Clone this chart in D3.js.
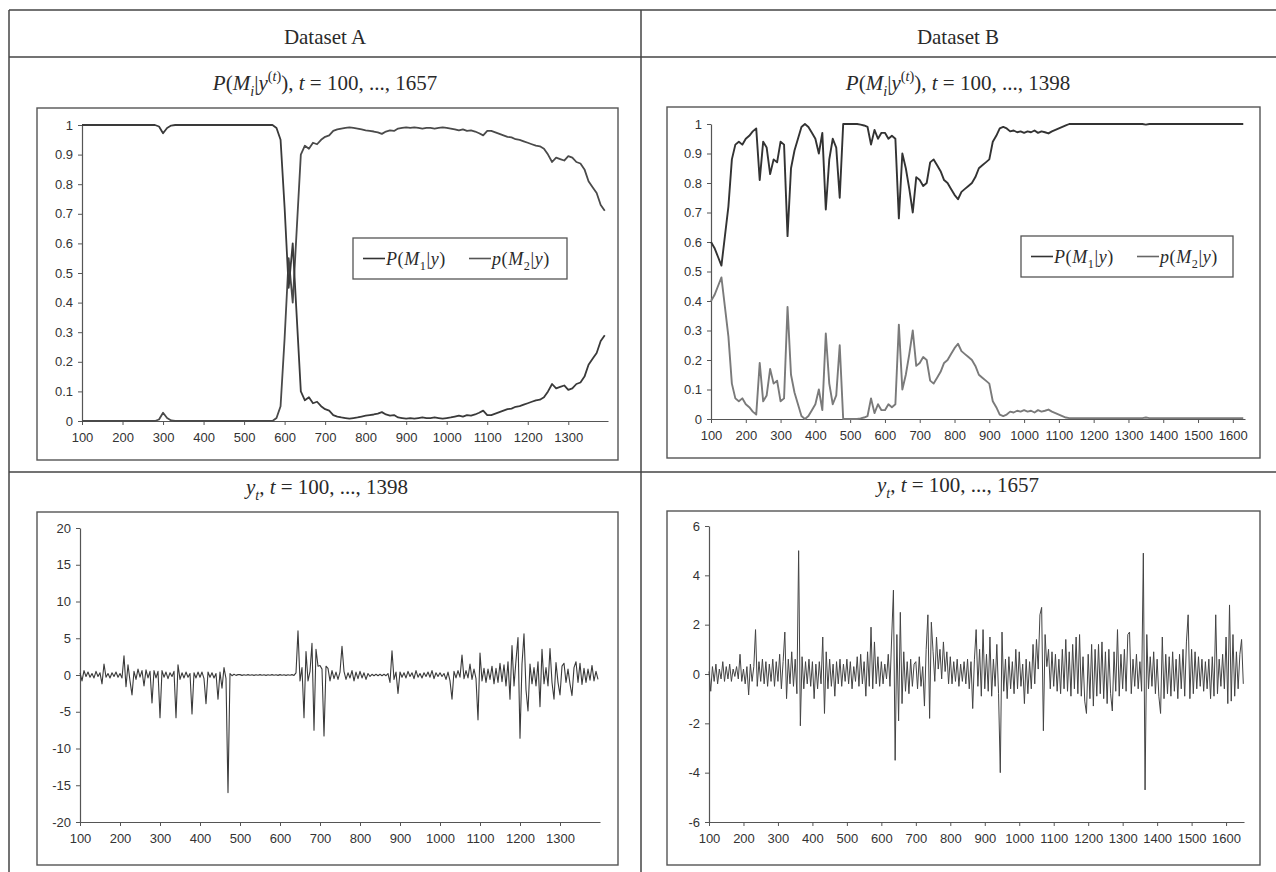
<!DOCTYPE html>
<html>
<head>
<meta charset="utf-8">
<script src="https://cdn.jsdelivr.net/npm/d3@7"></script>
<style>
  body { margin: 0; background: #fff; }
  svg { display: block; }
</style>
</head>
<body>
<script>
// posterior model probabilities, sampled every 10 steps from t = 100
const probA_M1 = [
  1,1,1,1,1,1,1,1,1,1,
  1,1,1,1,1,1,1,1,1,0.995,
  0.972,0.99,0.998,1,1,1,1,1,1,1,
  1,1,1,1,1,1,1,1,1,1,
  1,1,1,1,1,1,1,1,0.99,0.95,
  0.72,0.45,0.6,0.35,0.1,0.07,0.08,0.06,0.065,0.05,
  0.04,0.035,0.02,0.015,0.012,0.01,0.008,0.01,0.012,0.015,
  0.018,0.02,0.022,0.025,0.03,0.022,0.018,0.02,0.012,0.01,
  0.008,0.01,0.008,0.01,0.012,0.01,0.01,0.012,0.01,0.008,
  0.01,0.012,0.015,0.018,0.015,0.02,0.018,0.022,0.028,0.035,
  0.02,0.02,0.025,0.03,0.035,0.04,0.042,0.048,0.05,0.055,
  0.06,0.065,0.07,0.072,0.08,0.1,0.125,0.11,0.115,0.12,
  0.105,0.11,0.125,0.13,0.15,0.19,0.21,0.23,0.27,0.29
];
const probA_M2 = [
  0,0,0,0,0,0,0,0,0,0,
  0,0,0,0,0,0,0,0,0,0.005,
  0.028,0.01,0.002,0,0,0,0,0,0,0,
  0,0,0,0,0,0,0,0,0,0,
  0,0,0,0,0,0,0,0,0.01,0.05,
  0.28,0.55,0.4,0.65,0.9,0.93,0.92,0.94,0.935,0.95,
  0.96,0.965,0.98,0.985,0.988,0.99,0.992,0.99,0.988,0.985,
  0.982,0.98,0.978,0.975,0.97,0.978,0.982,0.98,0.988,0.99,
  0.992,0.99,0.992,0.99,0.988,0.99,0.99,0.988,0.99,0.992,
  0.99,0.988,0.985,0.982,0.985,0.98,0.982,0.978,0.972,0.965,
  0.98,0.98,0.975,0.97,0.965,0.96,0.958,0.952,0.95,0.945,
  0.94,0.935,0.93,0.928,0.92,0.9,0.875,0.89,0.885,0.88,
  0.895,0.89,0.875,0.87,0.85,0.81,0.79,0.77,0.73,0.71
];
const probB_M1 = [
  0.6,0.58,0.55,0.52,0.62,0.72,0.88,0.93,0.94,0.93,
  0.95,0.96,0.975,0.985,0.81,0.94,0.92,0.83,0.88,0.87,
  0.94,0.93,0.62,0.85,0.91,0.95,0.99,1,0.99,0.97,
  0.95,0.9,0.97,0.71,0.88,0.95,0.92,0.75,1,1,
  1,1,1,0.998,0.995,0.99,0.93,0.98,0.95,0.97,
  0.97,0.95,0.96,0.95,0.68,0.9,0.85,0.78,0.7,0.82,
  0.81,0.79,0.8,0.87,0.88,0.86,0.84,0.81,0.8,0.78,
  0.76,0.745,0.77,0.78,0.79,0.8,0.82,0.85,0.86,0.87,
  0.88,0.94,0.96,0.985,0.99,0.985,0.975,0.978,0.972,0.975,
  0.97,0.975,0.972,0.978,0.97,0.975,0.972,0.968,0.975,0.98,
  0.985,0.99,0.995,1,1,1,1,1,1,1,
  1,1,1,1,1,1,1,1,1,1,
  1,1,1,1,1,0.998,1,1,1,1,
  1,1,1,1,1,1,1,1,1,1,
  1,1,1,1,1,1,1,1,1,1,
  1,1,1,1
];
const probB_M2 = [
  0.4,0.42,0.45,0.48,0.38,0.28,0.12,0.07,0.06,0.07,
  0.05,0.04,0.025,0.015,0.19,0.06,0.08,0.17,0.12,0.13,
  0.06,0.07,0.38,0.15,0.09,0.05,0.01,0,0.01,0.03,
  0.05,0.1,0.03,0.29,0.12,0.05,0.08,0.25,0,0,
  0,0,0,0.002,0.005,0.01,0.07,0.02,0.05,0.03,
  0.03,0.05,0.04,0.05,0.32,0.1,0.15,0.22,0.3,0.18,
  0.19,0.21,0.2,0.13,0.12,0.14,0.16,0.19,0.2,0.22,
  0.24,0.255,0.23,0.22,0.21,0.2,0.18,0.15,0.14,0.13,
  0.12,0.06,0.04,0.015,0.01,0.015,0.025,0.022,0.028,0.025,
  0.03,0.025,0.028,0.022,0.03,0.025,0.028,0.032,0.025,0.02,
  0.015,0.01,0.005,0.003,0.003,0.003,0.003,0.003,0.003,0.003,
  0.003,0.003,0.003,0.003,0.003,0.003,0.003,0.003,0.003,0.003,
  0.003,0.003,0.003,0.003,0.003,0.005,0.003,0.003,0.003,0.003,
  0.003,0.003,0.003,0.003,0.003,0.003,0.003,0.003,0.003,0.003,
  0.003,0.003,0.003,0.003,0.003,0.003,0.003,0.003,0.003,0.003,
  0.003,0.003,0.003,0.003
];

// observed series, sampled every 5 steps from t = 100
const seriesA = [
  0.3,-0.8,0.6,-0.2,0.4,-0.3,0.2,-0.4,0.5,-0.2,0.3,-1.2,1.5,-0.3,0.2,-0.4,0.3,-0.2,0.4,-0.3,
  0.2,-0.4,2.6,-1.6,1.4,-0.8,-2.7,0.5,-0.6,0.8,-0.3,0.6,-1.5,0.7,-0.4,0.5,-3.8,0.6,-0.4,0.5,
  -5.8,0.6,-0.3,0.4,-0.5,0.3,-0.2,0.5,-5.8,1.4,-0.6,0.3,-0.4,0.4,-0.3,0.2,-5.3,0.3,-0.4,0.4,
  -0.3,0.4,-0.5,-3.9,0.4,-0.3,0.3,-0.4,0.2,-3.3,0.4,-1.8,1.0,-0.5,-16,0.2,-0.1,0.1,-0.05,0.05,
  0.05,-0.05,0.04,-0.03,0.05,-0.04,0.03,-0.05,0.04,-0.03,0.05,-0.04,0.03,-0.05,0.04,-0.03,0.05,-0.04,0.03,-0.05,
  0.05,-0.04,0.03,-0.05,0.04,-0.03,0.05,-0.06,0.3,6.0,-0.8,1.0,-5.8,3.2,-0.8,0.5,4.3,-7.5,3.5,1.2,
  1.3,0.8,-8.3,1.2,0.9,-0.8,0.6,-0.5,0.4,-0.6,0.4,3.9,0.5,-0.6,0.3,-0.4,0.6,-0.8,0.4,-0.5,
  0.5,-0.4,0.3,-0.6,0.2,-0.2,0.1,-0.1,0.1,-0.1,0.1,-0.1,0.1,-0.1,0.2,-1.0,3.3,-0.6,0.4,-2.5,
  0.4,-0.3,0.3,-0.4,0.5,-0.2,0.3,-0.5,0.6,-0.3,0.2,-0.4,0.3,-0.2,0.4,-0.3,0.6,-0.5,0.3,-0.2,
  0.3,-0.2,0.2,-0.6,0.4,-0.8,-3.3,0.5,-0.4,0.6,-0.3,2.7,-0.5,0.6,-0.4,1.5,-0.6,0.8,-0.5,-6.1,
  3.0,-0.8,0.9,-1.0,0.8,-0.6,1.2,-1.2,0.9,-1.0,1.6,-0.9,1.4,-1.5,1.8,-3.3,4.0,-1.5,2.0,5.1,
  -8.6,1.5,5.6,-2.0,-4.9,1.5,-1.2,1.0,-1.5,1.8,-4.3,3.5,-1.2,1.0,-1.5,3.6,-1.0,-3.3,1.7,-1.0,
  -2.7,1.2,1.6,-1.0,0.8,-1.2,-2.8,1.0,1.8,-1.0,1.6,-1.3,0.9,-1.0,0.8,-0.7,1.3,-0.8,0.5,-0.6
];
const seriesB = [
  0.1,-0.7,0.3,-0.3,0.4,-0.4,0.2,-0.2,0.5,-0.3,0.3,-0.2,0.4,-0.3,0.2,-0.1,0.3,-0.2,0.8,-0.3,
  0.2,-0.4,0.3,-0.85,0.4,-0.3,0.3,1.8,-0.5,0.5,-0.3,0.6,-0.4,0.5,-0.5,0.4,-0.3,0.6,-0.5,0.5,
  -0.3,0.8,-0.6,0.5,1.7,-1.0,0.6,-0.4,0.9,-0.5,0.6,-0.8,5.0,-2.1,0.7,-0.6,0.5,-0.4,0.6,-0.5,
  0.5,-1.0,0.4,-0.6,0.5,-0.4,1.5,-1.6,0.9,-0.6,0.6,-0.5,0.4,-0.9,0.5,-0.4,0.6,-0.5,0.4,-0.3,
  0.6,-0.4,0.5,-0.6,0.3,-0.3,0.7,-0.5,0.8,-0.4,0.5,-0.9,0.9,-0.5,1.9,-0.6,1.3,-0.4,0.7,-0.5,
  0.5,-0.4,0.4,-0.2,0.8,-0.5,1.5,3.4,-3.5,1.6,-1.9,2.5,-1.2,0.9,-0.7,0.5,-0.8,0.6,-0.5,0.4,
  0.5,-0.6,0.7,-0.5,0.3,-1.3,1.0,2.4,-1.8,2.1,0.9,-0.3,1.5,0.2,1.0,-0.2,1.3,0.1,0.9,-0.4,
  0.7,-0.4,0.5,-0.3,0.6,-0.5,0.4,-0.3,0.5,-0.4,0.6,-0.6,0.5,-1.4,0.6,1.8,-0.5,1.0,-0.9,1.8,
  -0.6,0.8,-0.7,1.5,-0.9,0.6,-0.5,1.2,-0.8,-4.0,1.7,-0.7,0.6,-1.0,0.7,-0.6,0.5,-0.8,1.0,-0.6,
  0.9,-0.5,0.4,-1.2,0.6,-0.8,0.5,-0.6,1.2,-0.4,1.4,0.2,2.4,2.7,-2.3,1.6,0.3,1.0,-0.6,0.9,
  -0.5,0.8,-0.7,0.6,-0.8,1.0,-0.6,1.4,-0.7,0.9,-0.9,1.2,-0.6,1.5,-0.8,1.6,-0.9,0.7,-1.1,-1.6,
  0.8,-1.0,1.2,-1.3,1.0,-0.9,1.2,-0.8,1.3,-1.0,0.9,-1.2,1.0,-0.8,-1.5,0.9,-0.7,1.8,-0.9,0.8,
  -0.6,1.0,-0.7,1.6,1.7,-0.8,0.6,-0.5,0.8,-0.6,0.5,-0.7,4.9,-4.7,1.6,-0.6,0.7,-0.5,0.9,-0.8,
  0.6,-0.9,-1.6,1.5,-1.0,0.8,-0.8,0.7,-0.9,0.9,-0.7,0.6,-1.0,0.8,-0.6,1.0,-0.9,1.3,2.4,-1.0,
  1.0,-0.8,0.9,-0.6,0.7,-0.5,0.6,-0.7,0.5,-0.6,0.6,-1.0,0.7,-0.9,2.4,-0.8,0.6,-0.5,0.8,-0.6,
  1.5,-1.2,2.8,-1.1,1.6,-0.9,0.9,-0.6,0.8,1.4,-0.4
];

// tick labels
const probTicks = [0,0.1,0.2,0.3,0.4,0.5,0.6,0.7,0.8,0.9,1];
const timeTicksA = [100,200,300,400,500,600,700,800,900,1000,1100,1200,1300];
const timeTicksB = [100,200,300,400,500,600,700,800,900,1000,1100,1200,1300,1400,1500,1600];
const seriesTicksA = [-20,-15,-10,-5,0,5,10,15,20];
const seriesTicksB = [-6,-4,-2,0,2,4,6];

const SERIF = '"Liberation Serif", "Times New Roman", serif';
const SANS = '"Liberation Sans", Arial, sans-serif';

let svg = null;

appendSvg("body");
drawTable();
drawHeaders();

// top row: probabilities
let sc = drawFrame({x0: 37, y0: 108, x1: 618, y1: 460},
  [100, 1398], [82, 608], [0, 1], [421, 125], timeTicksA, probTicks);
drawSeries(sc, probA_M2, 10, "#4a4a4a", 1.8);
drawSeries(sc, probA_M1, 10, "#3a3a3a", 1.8);
drawLegend(353, 238, 214, 41, "#333", "#555");

sc = drawFrame({x0: 667, y0: 107, x1: 1260, y1: 458},
  [100, 1635], [711, 1245], [0, 1], [419, 124], timeTicksB, probTicks);
drawSeries(sc, probB_M2, 10, "#7a7a7a", 1.9);
drawSeries(sc, probB_M1, 10, "#333", 1.9);
drawLegend(1021, 236, 212, 41, "#333", "#666");

// bottom row: data
sc = drawFrame({x0: 37, y0: 512, x1: 618, y1: 865},
  [100, 1400], [80, 600], [-20, 20], [822, 528], timeTicksA, seriesTicksA);
drawSeries(sc, seriesA, 5, "#3a3a3a", 1.1);

sc = drawFrame({x0: 667, y0: 511, x1: 1260, y1: 865},
  [100, 1652], [709, 1244], [-6, 6], [822, 526], timeTicksB, seriesTicksB);
drawSeries(sc, seriesB, 5, "#444", 1);

function appendSvg(domElement) {
  svg = d3.select(domElement).append("svg")
    .attr("width", 1276)
    .attr("height", 872);
}

function drawTable() {
  const g = svg.append("g")
    .attr("stroke", "#444")
    .attr("stroke-width", 1.5);
  // horizontal rules
  [10, 57, 472].forEach(yy => {
    g.append("line").attr("x1", 9).attr("x2", 1276).attr("y1", yy).attr("y2", yy);
  });
  // vertical rules
  [9, 641].forEach(xx => {
    g.append("line").attr("x1", xx).attr("x2", xx).attr("y1", 10).attr("y2", 872);
  });
}

// text with italic / subscript / superscript pieces
function richText(x, y, size, anchor, parts) {
  const t = svg.append("text")
    .attr("x", x)
    .attr("y", y)
    .attr("text-anchor", anchor)
    .style("font-family", SERIF)
    .style("font-size", size + "px")
    .attr("fill", "#2a2a2a");
  let shift = 0;
  parts.forEach(p => {
    const target = p.sub ? size * 0.28 : p.sup ? -size * 0.42 : 0;
    const ts = t.append("tspan").text(p.s).attr("dy", target - shift);
    shift = target;
    if (p.sub || p.sup) ts.style("font-size", (size * 0.68) + "px");
    if (p.it) ts.style("font-style", "italic");
  });
  return t;
}

function probTitle(last) {
  return [
    {s: "P", it: true}, {s: "("}, {s: "M", it: true}, {s: "i", it: true, sub: true},
    {s: "|"}, {s: "y", it: true}, {s: "(", sup: true}, {s: "t", it: true, sup: true},
    {s: ")", sup: true}, {s: "), "}, {s: "t", it: true}, {s: " = 100, ..., " + last}
  ];
}

function seriesTitle(last) {
  return [
    {s: "y", it: true}, {s: "t", it: true, sub: true}, {s: ", "},
    {s: "t", it: true}, {s: " = 100, ..., " + last}
  ];
}

function drawHeaders() {
  richText(325, 44, 21, "middle", [{s: "Dataset A"}]);
  richText(958, 44, 21, "middle", [{s: "Dataset B"}]);
  richText(325, 90, 21, "middle", probTitle(1657));
  richText(958, 90, 21, "middle", probTitle(1398));
  richText(327, 494, 21, "middle", seriesTitle(1398));
  richText(958, 492, 21, "middle", seriesTitle(1657));
}

function styleAxis(g) {
  g.select(".domain").attr("stroke", "#555").attr("stroke-width", 1.2);
  g.selectAll(".tick line").attr("stroke", "#555");
  g.selectAll(".tick text")
    .attr("fill", "#333")
    .style("font-family", SANS)
    .style("font-size", "13px");
}

function drawFrame(box, xDomain, xRange, yDomain, yRange, xTicks, yTicks) {
  svg.append("rect")
    .attr("x", box.x0).attr("y", box.y0)
    .attr("width", box.x1 - box.x0).attr("height", box.y1 - box.y0)
    .attr("fill", "none").attr("stroke", "#555").attr("stroke-width", 1.4);

  const x = d3.scaleLinear().domain(xDomain).range(xRange);
  const y = d3.scaleLinear().domain(yDomain).range(yRange);

  const gx = svg.append("g")
    .attr("transform", `translate(0,${yRange[0]})`)
    .call(d3.axisBottom(x).tickValues(xTicks).tickSize(4).tickSizeOuter(0)
      .tickPadding(8).tickFormat(d => String(d)));
  const gy = svg.append("g")
    .attr("transform", `translate(${xRange[0]},0)`)
    .call(d3.axisLeft(y).tickValues(yTicks).tickSize(4).tickSizeOuter(0)
      .tickPadding(5).tickFormat(d => String(d)));
  styleAxis(gx);
  styleAxis(gy);
  return {x, y};
}

function drawSeries(sc, values, step, color, width) {
  const line = d3.line()
    .x((d, i) => sc.x(100 + i * step))
    .y(d => sc.y(d));
  svg.append("path")
    .datum(values)
    .attr("fill", "none")
    .attr("stroke", color)
    .attr("stroke-width", width)
    .attr("stroke-linejoin", "round")
    .attr("d", line);
}

function drawLegend(lx, ly, w, h, c1, c2) {
  svg.append("rect")
    .attr("x", lx).attr("y", ly).attr("width", w).attr("height", h)
    .attr("fill", "#fff").attr("stroke", "#555").attr("stroke-width", 1.3);
  const cy = ly + h / 2;
  const entries = [
    {c: c1, x: 10, parts: [{s: "P", it: true}, {s: "("}, {s: "M", it: true}, {s: "1", sub: true}, {s: "|"}, {s: "y", it: true}, {s: ")"}]},
    {c: c2, x: 116, parts: [{s: "p", it: true}, {s: "("}, {s: "M", it: true}, {s: "2", sub: true}, {s: "|"}, {s: "y", it: true}, {s: ")"}]}
  ];
  entries.forEach(e => {
    svg.append("line")
      .attr("x1", lx + e.x).attr("x2", lx + e.x + 22)
      .attr("y1", cy).attr("y2", cy)
      .attr("stroke", e.c).attr("stroke-width", 1.6);
    richText(lx + e.x + 23, cy + 6, 18, "start", e.parts)
      .style("letter-spacing", "0.6px");
  });
}
</script>
</body>
</html>
